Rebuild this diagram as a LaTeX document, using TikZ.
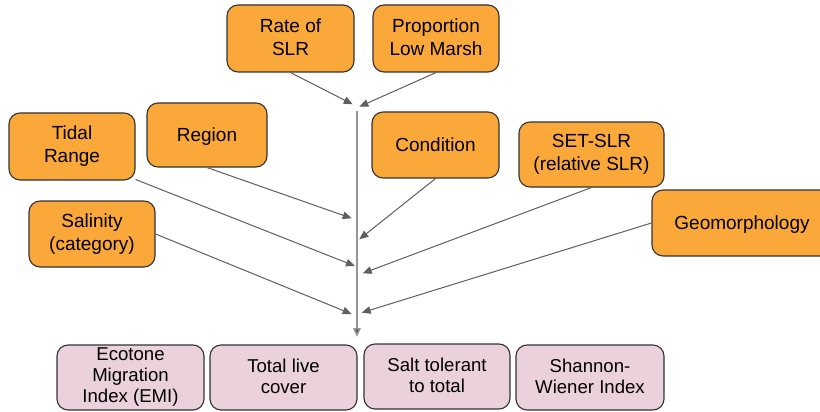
\documentclass[tikz,border=0pt]{standalone}
\usepackage{fontspec}
\setmainfont{Liberation Sans}
\usetikzlibrary{arrows.meta}
\definecolor{orangefill}{RGB}{250,168,58}
\definecolor{pinkfill}{RGB}{234,209,220}
\definecolor{edgegray}{RGB}{51,51,51}
\definecolor{arrowgray}{RGB}{95,95,95}
\definecolor{maingray}{RGB}{150,150,150}
\newcommand\boxstrut{\rule[-3.4pt]{0pt}{20.4pt}}
\tikzset{
  obox/.style={draw=edgegray, line width=1.1pt, fill=orangefill, rounded corners=11pt,
    inner sep=0pt, align=center, font=\fontsize{19}{23}\selectfont,
    execute at begin node=\boxstrut, execute at end node=\boxstrut},
  pbox/.style={draw=edgegray, line width=1.1pt, fill=pinkfill, rounded corners=11pt,
    inner sep=0pt, align=center, font=\fontsize{18.6}{21}\selectfont,
    execute at begin node=\boxstrut, execute at end node=\boxstrut},
  link/.style={draw=arrowgray, line width=1pt, -{Triangle[length=9pt,width=7.5pt]}},
  mainlink/.style={draw=maingray, line width=1.4pt, -{Triangle[length=9pt,width=7.5pt,fill=arrowgray]}}
}
\begin{document}
\begin{tikzpicture}[x=1pt,y=-1pt]
\useasboundingbox[fill=white] (0,0) rectangle (820,412);
% top boxes
\node[obox, minimum width=127pt, minimum height=67pt] (rate) at (290.5,38.5) {Rate of\\SLR};
\node[obox, minimum width=126pt, minimum height=67pt] (prop) at (436,38.5) {Proportion\\Low Marsh};
\node[obox, minimum width=126pt, minimum height=67pt] (tidal) at (72,146.5) {Tidal\\Range};
\node[obox, minimum width=120pt, minimum height=64pt] (region) at (207,135) {Region};
\node[obox, minimum width=126pt, minimum height=66pt] (salinity) at (92,234) {Salinity\\(category)};
\node[obox, minimum width=127pt, minimum height=66pt] (condition) at (435.5,145) {Condition};
\node[obox, minimum width=145pt, minimum height=65pt] (setslr) at (591.5,154.5) {SET-SLR\\(relative SLR)};
\node[obox, minimum width=180pt, minimum height=66pt] (geo) at (742,223) {Geomorphology};
% bottom boxes
\node[pbox, minimum width=147pt, minimum height=65pt] (emi) at (130.5,377.5) {Ecotone\\Migration\\Index (EMI)};
\node[pbox, minimum width=147pt, minimum height=65pt] (total) at (283.5,377.5) {Total live\\cover};
\node[pbox, minimum width=146pt, minimum height=65pt] (salt) at (437,376.5) {Salt tolerant\\to total};
\node[pbox, minimum width=148pt, minimum height=65pt] (shannon) at (590,377.5) {Shannon-\\Wiener Index};
% arrow tips
\coordinate (tRate) at (352.7,104.3);
\coordinate (tProp) at (359.3,106.7);
\coordinate (tRegion) at (351.7,218.3);
\coordinate (tCond) at (359.3,239.3);
\coordinate (tTidal) at (355,266);
\coordinate (tSet) at (362.7,273.3);
\coordinate (tSal) at (351.7,314);
\coordinate (tGeo) at (361.7,312.7);
\coordinate (mTop) at (357,111);
\coordinate (mEnd) at (357,337);
% connectors
\draw[link] (rate.south) -- (tRate);
\draw[link] (prop.south) -- (tProp);
\draw[link] (region.south) -- (tRegion);
\draw[link] ([yshift=-5pt]tidal.east) ++(0,28) -- (tTidal);
\draw[link] (salinity.east) -- (tSal);
\draw[link] (condition.south) -- (tCond);
\draw[link] (setslr.south) -- (tSet);
\draw[link] (geo.west) -- (tGeo);
\draw[mainlink] (mTop) -- (mEnd);
\end{tikzpicture}
\end{document}
